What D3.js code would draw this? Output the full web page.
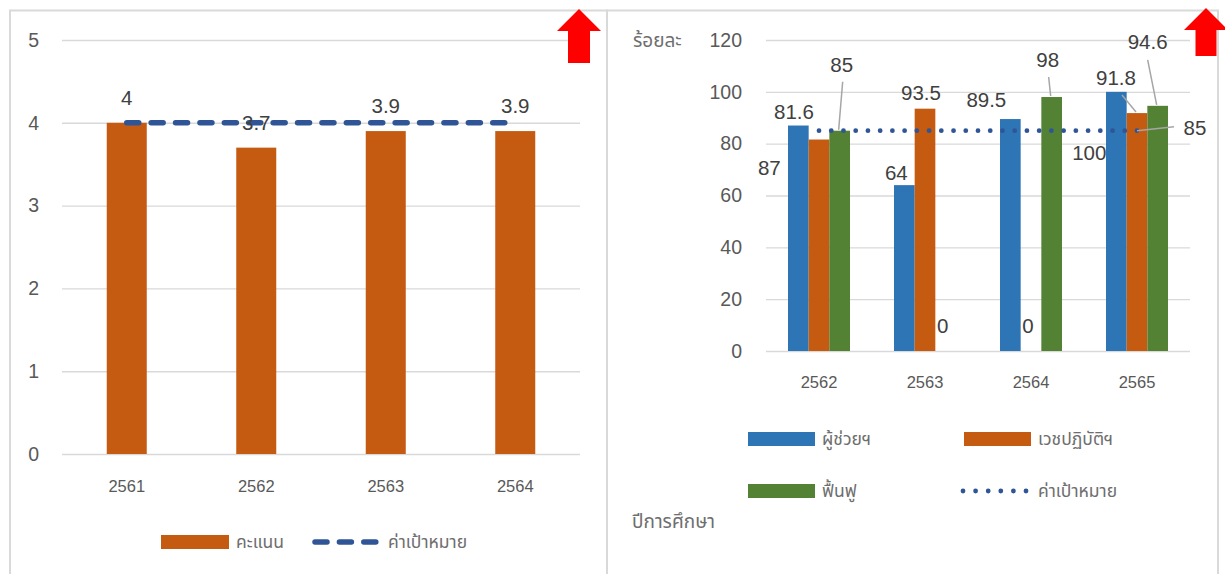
<!DOCTYPE html>
<html><head><meta charset="utf-8">
<script src="https://cdn.jsdelivr.net/npm/d3@7"></script>
<style>
body{margin:0;background:#fff}
svg{display:block}
text{font-family:"Liberation Sans","Noto Sans Thai","Noto Sans",sans-serif}
</style>
</head><body>
<svg id="c" width="1225" height="574"></svg>
<script>
// ---------- data ----------
const leftCategories = ["2561", "2562", "2563", "2564"];
const leftScores = [4, 3.7, 3.9, 3.9];
const leftTarget = [4, 4, 4, 4];
const leftTicks = [0, 1, 2, 3, 4, 5];
const leftSeriesNames = ["คะแนน", "ค่าเป้าหมาย"];

const rightCategories = ["2562", "2563", "2564", "2565"];
const assistantValues = [87, 64, 89.5, 100];
const practiceValues = [81.6, 93.5, 0, 91.8];
const rehabValues = [85, 0, 98, 94.6];
const rightTarget = [85, 85, 85, 85];
const rightTicks = [0, 20, 40, 60, 80, 100, 120];
const rightSeriesNames = ["ผู้ช่วยฯ", "เวชปฏิบัติฯ", "ฟื้นฟู", "ค่าเป้าหมาย"];
const rightYTitle = "ร้อยละ";
const rightXTitle = "ปีการศึกษา";

// ---------- styles / layout ----------
const C = {blue:"#2E75B6", orange:"#C55A11", green:"#548235", target:"#2F5597",
           grid:"#D9D9D9", axis:"#595959", thai:"#6E6E6E", label:"#404040", leader:"#A6A6A6", border:"#D9D9D9", red:"#FF0000"};
const LBL = 20.5, TICK = 19.5, XT = 16.5, LEG = 17.5, TITLE = 19;

// label offsets (relative to the bar top centre) for the right chart, per series
const rightLabelOffsets = [
  [[-29, 42], [-8, -13], [-24, -19], [-27, 61]],
  [[-25, -28], [-4, -16], [-3, -25], [-21, -35]],
  [[2, -66], [-3, -25], [-4, -37], [-10, -64]]
];
// leader lines: [series, category, startDx, startDy]
const rightLeaders = [[2, 0, 3, -49], [2, 2, -3, -20], [1, 3, -15, -18], [2, 3, -10, -46]];

const svg = d3.select("#c");
svg.append("rect").attr("width", 1225).attr("height", 574).attr("fill", "#fff");

// panel borders
svg.append("rect").attr("x", 10).attr("y", 10.5).attr("width", 597).attr("height", 580)
  .attr("fill", "none").attr("stroke", C.border).attr("stroke-width", 2);
svg.append("rect").attr("x", 607).attr("y", 10.5).attr("width", 611).attr("height", 580)
  .attr("fill", "none").attr("stroke", C.border).attr("stroke-width", 2);

// ================= LEFT CHART =================
{
  const x = d3.scaleBand().domain(leftCategories).range([62, 580]);
  const y = d3.scaleLinear().domain([0, 5]).range([454, 40]);
  const g = svg.append("g");

  const yAxis = g.append("g").attr("transform", "translate(62,0)")
    .call(d3.axisLeft(y).tickValues(leftTicks).tickSize(-(580 - 62)).tickPadding(23).tickFormat(d3.format("d")));
  yAxis.select(".domain").remove();
  yAxis.selectAll("line").attr("stroke", C.grid).attr("stroke-width", 1.4);
  yAxis.selectAll("text").attr("fill", C.axis).attr("font-size", TICK);

  const xAxis = g.append("g").attr("transform", "translate(0,454)")
    .call(d3.axisBottom(x).tickSize(0).tickPadding(26));
  xAxis.select(".domain").remove();
  xAxis.selectAll("text").attr("fill", C.axis).attr("font-size", XT);

  const bw = 40;
  g.selectAll(".bar").data(leftScores).join("rect")
    .attr("x", (d, i) => x(leftCategories[i]) + x.bandwidth() / 2 - bw / 2)
    .attr("width", bw)
    .attr("y", d => y(d)).attr("height", d => y(0) - y(d))
    .attr("fill", C.orange);

  const line = d3.line().x((d, i) => x(leftCategories[i]) + x.bandwidth() / 2).y(d => y(d));
  g.append("path").datum(leftTarget).attr("d", line)
    .attr("fill", "none").attr("stroke", C.target).attr("stroke-width", 5.5)
    .attr("stroke-linecap", "round").attr("stroke-dasharray", "12,12.4");

  g.selectAll(".lbl").data(leftScores).join("text")
    .attr("x", (d, i) => x(leftCategories[i]) + x.bandwidth() / 2)
    .attr("y", d => y(d) - 25).attr("dy", "0.36em")
    .attr("text-anchor", "middle").attr("fill", C.label).attr("font-size", LBL)
    .text(d => d);

  // legend
  const lg = g.append("g");
  lg.append("rect").attr("x", 161).attr("y", 535).attr("width", 68).attr("height", 14).attr("fill", C.orange);
  lg.append("text").attr("x", 236).attr("y", 542).attr("dy", "0.35em").attr("fill", C.thai).attr("font-size", LEG).text(leftSeriesNames[0]);
  lg.append("line").attr("x1", 315).attr("x2", 376).attr("y1", 542).attr("y2", 542)
    .attr("stroke", C.target).attr("stroke-width", 5.5).attr("stroke-linecap", "round").attr("stroke-dasharray", "12,12.4");
  lg.append("text").attr("x", 388).attr("y", 542).attr("dy", "0.35em").attr("fill", C.thai).attr("font-size", LEG).text(leftSeriesNames[1]);
}

// ================= RIGHT CHART =================
{
  const x = d3.scaleBand().domain(rightCategories).range([766, 1190]);
  const y = d3.scaleLinear().domain([0, 120]).range([351, 40]);
  const series = [assistantValues, practiceValues, rehabValues];
  const colors = [C.blue, C.orange, C.green];
  const inner = d3.scaleBand().domain([0, 1, 2]).range([-31, 31]);
  const g = svg.append("g");

  const yAxis = g.append("g").attr("transform", "translate(766,0)")
    .call(d3.axisLeft(y).tickValues(rightTicks).tickSize(-(1190 - 766)).tickPadding(24).tickFormat(d3.format("d")));
  yAxis.select(".domain").remove();
  yAxis.selectAll("line").attr("stroke", C.grid).attr("stroke-width", 1.4);
  yAxis.selectAll("text").attr("fill", C.axis).attr("font-size", TICK);

  const xAxis = g.append("g").attr("transform", "translate(0,351)")
    .call(d3.axisBottom(x).tickSize(0).tickPadding(25));
  xAxis.select(".domain").remove();
  xAxis.selectAll("text").attr("fill", C.axis).attr("font-size", XT);

  g.append("text").attr("x", 633).attr("y", 40).attr("dy", "0.35em").attr("fill", C.thai).attr("font-size", TITLE).text(rightYTitle);

  const cx = (s, i) => x(rightCategories[i]) + x.bandwidth() / 2 + inner(s) + inner.bandwidth() / 2;

  series.forEach((vals, s) => {
    g.append("g").selectAll("rect").data(vals).join("rect")
      .attr("x", (d, i) => x(rightCategories[i]) + x.bandwidth() / 2 + inner(s))
      .attr("width", inner.bandwidth())
      .attr("y", d => y(d)).attr("height", d => y(0) - y(d))
      .attr("fill", colors[s]);
  });

  // target dotted line
  const line = d3.line().x((d, i) => x(rightCategories[i]) + x.bandwidth() / 2).y(d => y(d));
  const len = x(rightCategories[3]) - x(rightCategories[0]);
  g.append("path").datum(rightTarget).attr("d", line)
    .attr("fill", "none").attr("stroke", C.target).attr("stroke-width", 4.8)
    .attr("stroke-linecap", "round").attr("stroke-dasharray", `0,${len / 26}`);

  // leader lines
  rightLeaders.forEach(([s, i, dx, dy]) => {
    const bx = cx(s, i), by = y(series[s][i]);
    g.append("line").attr("x1", bx + dx).attr("y1", by + dy).attr("x2", bx - 1).attr("y2", by - 1)
      .attr("stroke", C.leader).attr("stroke-width", 1.5);
  });
  // target label leader
  const tx = x(rightCategories[3]) + x.bandwidth() / 2, ty = y(rightTarget[3]);
  g.append("line").attr("x1", tx).attr("y1", ty).attr("x2", tx + 37).attr("y2", ty - 4)
    .attr("stroke", C.leader).attr("stroke-width", 1.5);

  // data labels
  series.forEach((vals, s) => {
    g.append("g").selectAll("text").data(vals).join("text")
      .attr("x", (d, i) => cx(s, i) + rightLabelOffsets[s][i][0])
      .attr("y", (d, i) => y(d) + rightLabelOffsets[s][i][1]).attr("dy", "0.36em")
      .attr("text-anchor", "middle").attr("fill", C.label).attr("font-size", LBL)
      .text(d => d);
  });
  g.append("text").attr("x", tx + 58).attr("y", ty - 3).attr("dy", "0.36em")
    .attr("text-anchor", "middle").attr("fill", C.label).attr("font-size", LBL).text(rightTarget[3]);

  // legend
  const lg = g.append("g");
  const items = [[748, 439, 0], [964, 439, 1], [748, 491, 2]];
  items.forEach(([lx, ly, s]) => {
    lg.append("rect").attr("x", lx).attr("y", ly - 7).attr("width", 67).attr("height", 14).attr("fill", colors[s]);
    lg.append("text").attr("x", lx + 74).attr("y", ly).attr("dy", "0.35em").attr("fill", C.thai).attr("font-size", LEG).text(rightSeriesNames[s]);
  });
  lg.append("line").attr("x1", 963).attr("x2", 1026).attr("y1", 491).attr("y2", 491)
    .attr("stroke", C.target).attr("stroke-width", 4.8).attr("stroke-linecap", "round").attr("stroke-dasharray", "0,12.6");
  lg.append("text").attr("x", 1038).attr("y", 491).attr("dy", "0.35em").attr("fill", C.thai).attr("font-size", LEG).text(rightSeriesNames[3]);

  g.append("text").attr("x", 632).attr("y", 521).attr("dy", "0.35em").attr("fill", C.thai).attr("font-size", TITLE).text(rightXTitle);
}

// red arrows
function arrow(cx, tipY, halfHead, headY, halfStem, bottomY) {
  const p = d3.path();
  p.moveTo(cx, tipY); p.lineTo(cx + halfHead, headY); p.lineTo(cx + halfStem, headY);
  p.lineTo(cx + halfStem, bottomY); p.lineTo(cx - halfStem, bottomY); p.lineTo(cx - halfStem, headY);
  p.lineTo(cx - halfHead, headY); p.closePath();
  svg.append("path").attr("d", p.toString()).attr("fill", C.red);
}
arrow(579, 9, 22, 31, 11, 63);
arrow(1206, 8, 22, 30, 10.5, 56);
</script>
</body></html>
